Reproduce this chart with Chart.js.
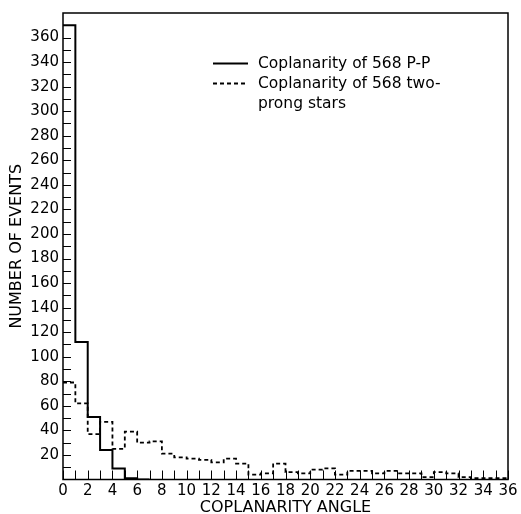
<!DOCTYPE html>
<html>
<head>
<meta charset="utf-8">
<script src="https://cdn.jsdelivr.net/npm/chart.js@4"></script>
<style>
  html, body { margin: 0; padding: 0; background: #fff; }
  #wrap { width: 521px; height: 514px; }
</style>
</head>
<body>
<div id="wrap"><canvas id="chart"></canvas></div>
<script>
// bin edges 0..36 deg, 1 deg wide
const binCount = 36;
const ppValues = [370, 112, 51, 24, 9, 1, 0];
const starValues = [79, 62, 37, 47, 25, 39, 30, 31, 21, 18, 17, 16, 14, 17, 13, 4, 5, 13,
  6, 5, 8, 9, 4, 7, 7, 5, 7, 5, 5, 2, 6, 5, 2, 1, 1, 1];
const xTickLabels = [0, 2, 4, 6, 8, 10, 12, 14, 16, 18, 20, 22, 24, 26, 28, 30, 32, 34, 36];
const yTickLabels = [20, 40, 60, 80, 100, 120, 140, 160, 180, 200, 220, 240, 260, 280, 300, 320, 340, 360];
const legendLines = [
  ['Coplanarity of 568 P-P'],
  ['Coplanarity of 568 two-', 'prong stars']
];

const font = 'DejaVu Sans';

// step points: value holds from left edge to next edge
function toSteps(vals) {
  const pts = vals.map((v, i) => ({ x: i, y: v }));
  pts.push({ x: vals.length, y: vals[vals.length - 1] });
  return pts;
}

const frameAndTicks = {
  id: 'frameAndTicks',
  afterDraw(chart) {
    const { ctx, chartArea: a, scales } = chart;
    ctx.save();
    ctx.strokeStyle = '#000';
    ctx.lineWidth = 1.5;
    ctx.strokeRect(a.left, a.top, a.right - a.left, a.bottom - a.top);
    ctx.lineWidth = 1;
    // inward ticks on x
    for (let i = 0; i <= binCount; i++) {
      const px = Math.round(scales.x.getPixelForValue(i)) + 0.5;
      ctx.beginPath();
      ctx.moveTo(px, a.bottom);
      ctx.lineTo(px, a.bottom - 9);
      ctx.stroke();
    }
    // inward ticks on y
    for (let v = 10; v < 380; v += 10) {
      const py = Math.round(scales.y.getPixelForValue(v)) + 0.5;
      ctx.beginPath();
      ctx.moveTo(a.left, py);
      ctx.lineTo(a.left + 8, py);
      ctx.stroke();
    }
    // legend
    const lx = 213, ly = 63;
    ctx.font = '15.5px "' + font + '"';
    ctx.fillStyle = '#000';
    ctx.textBaseline = 'middle';
    chart.data.datasets.forEach((ds, i) => {
      const y = ly + i * 20 + 0.5;
      ctx.lineWidth = 1.8;
      ctx.setLineDash(ds.borderDash || []);
      ctx.beginPath();
      ctx.moveTo(lx, y);
      ctx.lineTo(lx + 35, y);
      ctx.stroke();
      ctx.setLineDash([]);
      legendLines[i].forEach((t, j) => ctx.fillText(t, lx + 45, y + j * 20));
    });
    ctx.restore();
  }
};

new Chart(document.getElementById('chart'), {
  type: 'line',
  data: {
    datasets: [{
      label: legendLines[0].join(' '),
      data: toSteps(ppValues),
      stepped: 'before',
      borderColor: '#000',
      borderWidth: 2,
      pointRadius: 0,
      fill: false
    }, {
      label: legendLines[1].join(' '),
      data: toSteps(starValues),
      stepped: 'before',
      borderColor: '#000',
      borderWidth: 1.8,
      borderDash: [4, 3],
      pointRadius: 0,
      fill: false
    }]
  },
  options: {
    responsive: true,
    maintainAspectRatio: false,
    animation: false,
    layout: { padding: { top: 13, right: 13, left: 0, bottom: 0 } },
    plugins: { legend: { display: false }, tooltip: { enabled: false } },
    scales: {
      x: {
        type: 'linear',
        min: 0,
        max: binCount,
        afterFit: s => { s.height = 34.5; },
        afterBuildTicks: s => { s.ticks = xTickLabels.map(v => ({ value: v })); },
        ticks: {
          color: '#000',
          font: { family: font, size: 15 },
          padding: 3,
          maxRotation: 0,
          autoSkip: false
        },
        grid: { display: false, drawTicks: false, tickLength: 0 },
        border: { display: false },
        title: {
          display: true,
          text: 'COPLANARITY ANGLE',
          color: '#000',
          font: { family: font, size: 16 },
          padding: { top: 0, bottom: -3 }
        }
      },
      y: {
        min: 0,
        max: 380,
        afterFit: s => { s.width = 63; },
        afterBuildTicks: s => { s.ticks = yTickLabels.map(v => ({ value: v })); },
        ticks: {
          color: '#000',
          font: { family: font, size: 15 },
          padding: 4,
          autoSkip: false
        },
        grid: { display: false, drawTicks: false, tickLength: 0 },
        border: { display: false },
        title: {
          display: true,
          text: 'NUMBER OF EVENTS',
          color: '#000',
          font: { family: font, size: 16 },
          padding: { top: 7, bottom: 0 }
        }
      }
    }
  },
  plugins: [frameAndTicks]
});
</script>
</body>
</html>
